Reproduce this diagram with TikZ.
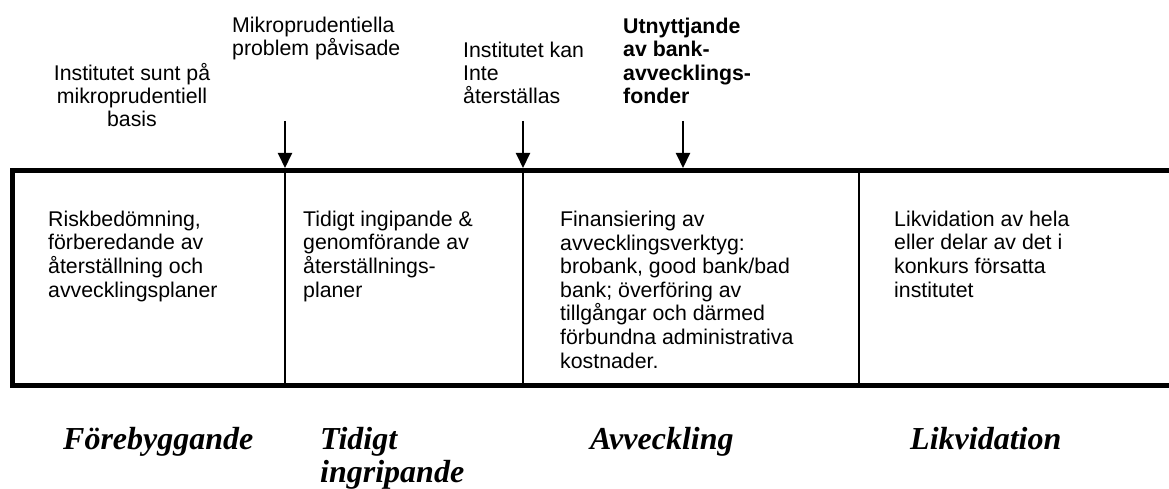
\documentclass[tikz,border=0pt]{standalone}
\usepackage{fontspec}
\setmainfont{Liberation Sans}
\newfontfamily\rubrikfont{Liberation Serif}
\usetikzlibrary{arrows.meta, positioning}

\begin{document}
\begin{tikzpicture}[
		x=1pt, y=-1pt,
		toptext/.style={inner sep=0pt, anchor=base west, align=left, font=\fontsize{21.3}{23.4}\selectfont},
		boxtext/.style={inner sep=0pt, anchor=base west, align=left, font=\fontsize{21.3}{23.6}\selectfont},
		fastext/.style={inner sep=0pt, anchor=base west, align=left, font=\rubrikfont\bfseries\itshape\fontsize{32}{33.5}\selectfont},
		ram/.style={line width=5pt, line join=miter},
		skiljelinje/.style={line width=1.5pt},
		pil/.style={-{Triangle[length=15pt, width=14pt]}, line width=2pt}
	]
	\useasboundingbox (0,0) rectangle (1169,489);
	% ram och faser
	\coordinate (ramNE) at (1169,170.5);
	\coordinate (ramNW) at (12.5,170.5);
	\coordinate (ramSW) at (12.5,385.5);
	\coordinate (ramSE) at (1169,385.5);
	\draw[ram] (ramNE) -- (ramNW) -- (ramSW) -- (ramSE);
	\coordinate (d1n) at (285,170.5); \coordinate (d1s) at (285,385.5);
	\coordinate (d2n) at (523,170.5); \coordinate (d2s) at (523,385.5);
	\coordinate (d3n) at (859,170.5); \coordinate (d3s) at (859,385.5);
	\draw[skiljelinje] (d1n) -- (d1s);
	\draw[skiljelinje] (d2n) -- (d2s);
	\draw[skiljelinje] (d3n) -- (d3s);
	% texter ovanfor (ankare = sista radens baslinje)
	\node[toptext, anchor=base, align=center] (sunt) at (132,127) {Institutet sunt på\\mikroprudentiell\\basis};
	\node[toptext] (mikro) at (232,55.5) {Mikroprudentiella\\problem påvisade};
	\node[toptext] (kan) at (463,104) {Institutet kan\\Inte\\återställas};
	\node[toptext, font=\bfseries\fontsize{21.3}{23.4}\selectfont] (fonder) at (623,103.5) {Utnyttjande\\av bank-\\avvecklings-\\fonder};
	% pilar
	\coordinate (p1) at (285,121);
	\coordinate (p2) at (523,121);
	\coordinate (p3) at (683,121);
	\coordinate (m1) at (285,168);
	\coordinate (m2) at (523,168);
	\coordinate (m3) at (683,168);
	\draw[pil] (p1) -- (m1);
	\draw[pil] (p2) -- (m2);
	\draw[pil] (p3) -- (m3);
	% texter i faserna
	\node[boxtext] (risk) at (48,297) {Riskbedömning,\\förberedande av\\återställning och\\avvecklingsplaner};
	\node[boxtext] (ingrip) at (303,297) {Tidigt ingipande \&\\genomförande av\\återställnings-\\planer};
	\node[boxtext] (finans) at (560,368) {Finansiering av\\avvecklingsverktyg:\\brobank, good bank/bad\\bank; överföring av\\tillgångar och därmed\\förbundna administrativa\\kostnader.};
	\node[boxtext] (likv) at (894,297) {Likvidation av hela\\eller delar av det i\\konkurs försatta\\institutet};
	% fasernas namn
	\node[fastext] (forebygg) at (63,449) {Förebyggande};
	\node[fastext] (tidigt) at (320,482.5) {Tidigt\\ingripande};
	\node[fastext] (avveckl) at (590,449) {Avveckling};
	\node[fastext] (likvid) at (910,449) {Likvidation};
\end{tikzpicture}
\end{document}
